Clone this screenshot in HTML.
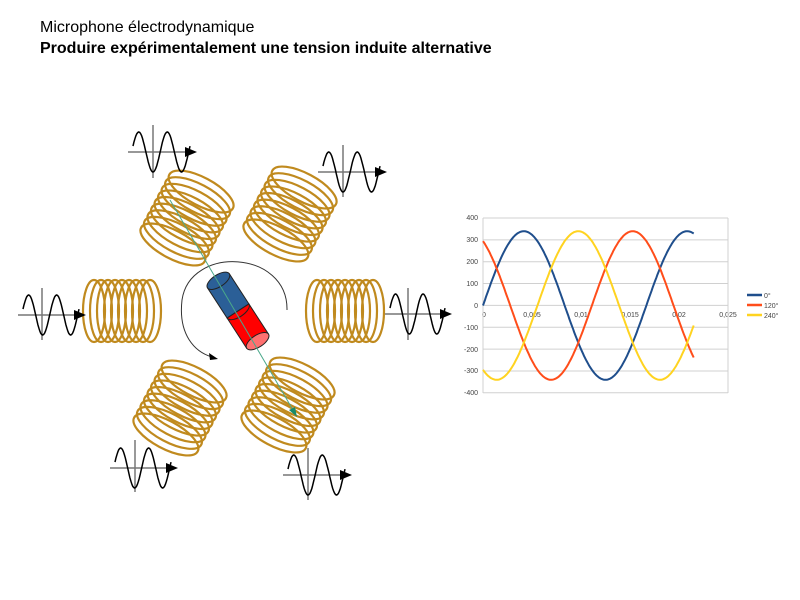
<!DOCTYPE html>
<html><head><meta charset="utf-8"><style>
body{margin:0;width:800px;height:600px;background:#fff;overflow:hidden;font-family:"Liberation Sans",sans-serif}
.t1{position:absolute;left:40px;top:19px;font-size:16px;color:#000}
.t2{position:absolute;left:40px;top:40px;font-size:16px;font-weight:bold;color:#000}
svg{position:absolute;left:0;top:0}
</style></head><body>
<div class="t1">Microphone électrodynamique</div>
<div class="t2">Produire expérimentalement une tension induite alternative</div>
<svg id="s" width="800" height="600" viewBox="0 0 800 600">
<g font-family="Liberation Sans,sans-serif" font-size="7" fill="#444" text-anchor="end">
<text x="478" y="220">400</text><text x="478" y="242">300</text><text x="478" y="264">200</text><text x="478" y="286">100</text><text x="478" y="308">0</text><text x="478" y="330">-100</text><text x="478" y="352">-200</text><text x="478" y="373">-300</text><text x="478" y="395">-400</text>
</g>
<g font-family="Liberation Sans,sans-serif" font-size="7" fill="#444" text-anchor="middle">
<text x="484" y="317">0</text><text x="532" y="317">0,005</text><text x="581" y="317">0,01</text><text x="630" y="317">0,015</text><text x="679" y="317">0,02</text><text x="728" y="317">0,025</text>
</g>
<g font-family="Liberation Sans,sans-serif" font-size="7" fill="#444">
<line x1="747" y1="295" x2="762" y2="295" stroke="#1f4e8c" stroke-width="2.5"/><text x="764" y="298">0°</text>
<line x1="747" y1="305" x2="762" y2="305" stroke="#ff4d1a" stroke-width="2.5"/><text x="764" y="308">120°</text>
<line x1="747" y1="315" x2="762" y2="315" stroke="#ffd320" stroke-width="2.5"/><text x="764" y="318">240°</text>
</g>
</svg>
<script>
const s=document.getElementById('s'),NS='http://www.w3.org/2000/svg';
function el(t,a,p){const e=document.createElementNS(NS,t);for(const k in a)e.setAttribute(k,a[k]);(p||s).appendChild(e);return e;}
for(let i=0;i<9;i++){const y=218+i*21.85;el('line',{x1:483,y1:y,x2:728,y2:y,stroke:'#d0d0d0','stroke-width':1});}
el('line',{x1:728,y1:218,x2:728,y2:393,stroke:'#d0d0d0'});
el('line',{x1:483,y1:218,x2:483,y2:393,stroke:'#d0d0d0'});
const cols=['#1f4e8c','#ff4d1a','#ffd320'];
[0,120,240].forEach((ph,j)=>{let d='';for(let t=0;t<=0.0215;t+=0.0001){const x=483+t*9800,y=305.5-340*Math.sin(2*Math.PI*60*t+ph*Math.PI/180)*0.2185;d+=(d?'L':'M')+x.toFixed(1)+' '+y.toFixed(1);}el('path',{d,fill:'none',stroke:cols[j],'stroke-width':2});});
function coil(cx,cy,rot,ry,sp,rx){const g=el('g',{transform:`translate(${cx},${cy}) rotate(${rot})`});const n=9;for(let i=0;i<n;i++){el('ellipse',{cx:(i-(n-1)/2)*sp,cy:0,rx:rx,ry:ry,fill:'none',stroke:'#c08a1e','stroke-width':2.2},g);}}
coil(122,311,0,31,7,11);coil(345,311,0,31,7,11);
coil(187,218,-62,36,7.5,14);coil(290,214,-62,36,7.5,14);coil(180,408,-62,36,7.5,14);coil(288,405,-62,36,7.5,14);
function wave(x0,x1,y,vx,vy0,vy1){el('line',{x1:vx,y1:vy0,x2:vx,y2:vy1,stroke:'#777','stroke-width':1.5});el('line',{x1:x0,y1:y,x2:x1-8,y2:y,stroke:'#777','stroke-width':1.5});el('path',{d:`M${x1} ${y} l-12 -5 v10z`,fill:'#000'});let d='';const w=(x1-x0-12);for(let i=0;i<=60;i++){const x=x0+5+i/60*w,yy=y-20*Math.sin(i/60*4*Math.PI+0.3);d+=(d?'L':'M')+x.toFixed(1)+' '+yy.toFixed(1);}el('path',{d,fill:'none',stroke:'#000','stroke-width':1.5});}
wave(128,197,152,153,125,178);wave(318,387,172,343,145,197);wave(18,86,315,42,288,340);wave(385,452,314,408,288,340);wave(110,178,468,135,440,492);wave(283,352,475,308,448,500);
el('path',{d:'M287 310 C 288 250, 190 245, 182 300 C 178 335, 195 352, 212 357',fill:'none',stroke:'#333','stroke-width':1});
el('path',{d:'M218 359 l-9 -6 l1 7z',fill:'#000'});
const m=el('g',{transform:'translate(238,311) rotate(-33)'});
el('rect',{x:-13,y:-36,width:26,height:36,fill:'#2b5f97',stroke:'#222','stroke-width':1},m);
el('ellipse',{cx:0,cy:-36,rx:13,ry:6,fill:'#2b5f97',stroke:'#222','stroke-width':1},m);
el('rect',{x:-13,y:0,width:26,height:36,fill:'#ff0000',stroke:'#222','stroke-width':1},m);
el('path',{d:'M-13 0 A13 6 0 0 0 13 0',fill:'none',stroke:'#222','stroke-width':1},m);
el('ellipse',{cx:0,cy:36,rx:13,ry:6,fill:'#ff7070',stroke:'#222','stroke-width':1},m);
el('line',{x1:170,y1:200,x2:293,y2:410,stroke:'#4aa88a','stroke-width':1});
el('path',{d:'M297 417 l-8 -7 l6 -3z',fill:'#1a8a6a'});
</script>
</body></html>
